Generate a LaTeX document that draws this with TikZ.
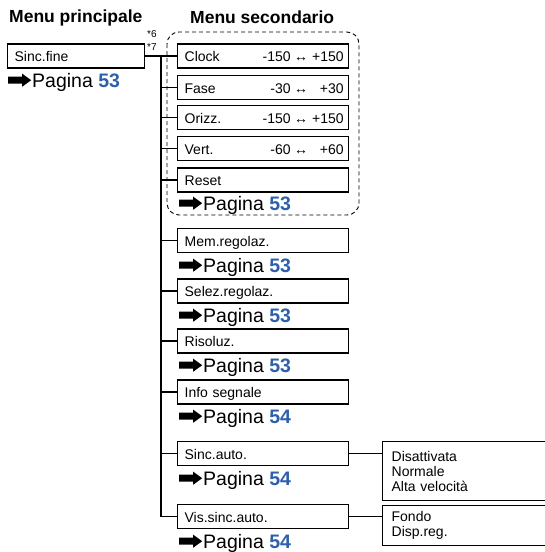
\documentclass[tikz,border=0pt]{standalone}
\usepackage{fontspec}
\setmainfont{Liberation Sans}
\usetikzlibrary{arrows.meta}

\definecolor{pagblue}{RGB}{45,95,170}

% black arrow in front of the page references
\newcommand\pgarrow{\tikz[x=1pt,y=1pt,baseline=0pt]\fill (0,3.3) -- (14,3.3) -- (14,0.3) -- (23,6.8) -- (14,13.3) -- (14,10.3) -- (0,10.3) -- cycle;}
\newcommand\pagref[1]{\pgarrow\kern1pt Pagina \textcolor{pagblue}{\textbf{#1}}}
% range of values, right aligned in the box
\newcommand\rng[2]{\hskip0pt plus 1filll\makebox[32pt][r]{#1}\makebox[21pt]{↔}\makebox[32pt][r]{#2}\kern-2pt}

\tikzset{
  title/.style={anchor=base west, inner sep=0pt, font=\fontsize{17.5}{20}\selectfont\bfseries},
  menubox/.style={draw, line width=1.3pt, anchor=west, minimum height=24pt,
    inner xsep=7pt, inner ysep=0pt, text height=11pt, text depth=0pt,
    font=\fontsize{14}{16}\selectfont},
  subbox/.style={menubox, text width=157pt},
  optbox/.style={draw, line width=1.3pt, anchor=north west, minimum width=200pt,
    text width=186pt, align=left, inner xsep=9pt, font=\fontsize{14}{15}\selectfont},
  pag/.style={anchor=base west, inner sep=0pt, font=\fontsize{19.5}{22}\selectfont},
  note/.style={anchor=base west, inner sep=0pt, font=\fontsize{10}{11}\selectfont},
  link/.style={line width=1.3pt},
  group/.style={line width=0.9pt, dash pattern=on 4pt off 3pt, rounded corners=12pt}
}

\begin{document}
\begin{tikzpicture}[x=1pt, y=-1pt]
  \clip (0,0) rectangle (545,552);
  % Titles
  \node[title] (t1) at (9,22) {Menu principale};
  \node[title] (t2) at (190,23) {Menu secondario};
  % Main menu
  \node[menubox, minimum width=137pt, text width=123pt] (fine) at (7,56) {Sinc.fine};
  \node[pag] (p0) at (8,87) {\pagref{53}};
  \node[note] (n6) at (147,37.5) {*6};
  \node[note] (n7) at (147,50) {*7};
  % Group of fine sync items
  \draw[group] (167,32) rectangle (359,215);
  \node[subbox] (clock) at (177,56) {Clock\rng{-150}{+150}};
  \node[subbox] (fase) at (177,87.5) {Fase\rng{-30}{+30}};
  \node[subbox] (orizz) at (177,117.5) {Orizz.\rng{-150}{+150}};
  \node[subbox] (vert) at (177,148.5) {Vert.\rng{-60}{+60}};
  \node[subbox] (reset) at (177,180) {Reset};
  \node[pag] (p1) at (179,210) {\pagref{53}};
  % Other items
  \node[subbox] (mem) at (177,240.5) {Mem.regolaz.};
  \node[pag] (p2) at (179,272) {\pagref{53}};
  \node[subbox] (selez) at (177,291) {Selez.regolaz.};
  \node[pag] (p3) at (179,322) {\pagref{53}};
  \node[subbox] (risol) at (177,341) {Risoluz.};
  \node[pag] (p4) at (179,372) {\pagref{53}};
  \node[subbox] (info) at (177,392) {Info segnale};
  \node[pag] (p5) at (179,423) {\pagref{54}};
  \node[subbox] (sauto) at (177,453.5) {Sinc.auto.};
  \node[pag] (p6) at (179,485) {\pagref{54}};
  \node[subbox] (vauto) at (177,516.5) {Vis.sinc.auto.};
  \node[pag] (p7) at (179,548) {\pagref{54}};
  % Options
  \node[optbox, minimum height=59pt] (opt1) at (382,441) {Disattivata\\Normale\\Alta velocità};
  \node[optbox, minimum height=40pt] (opt2) at (382,505) {Fondo\\Disp.reg.};
  % Connectors
  \coordinate (trunk) at (161,56);
  \draw[link] (fine.east) -- (clock.west);
  \draw[link] (trunk) |- (vauto.west);
  \foreach \n in {fase,orizz,vert,reset,mem,selez,risol,info,sauto}
    \draw[link] (trunk |- \n.west) -- (\n.west);
  \draw[link] (sauto.east) -- (sauto.east -| opt1.west);
  \draw[link] (vauto.east) -- (vauto.east -| opt2.west);
\end{tikzpicture}
\end{document}
